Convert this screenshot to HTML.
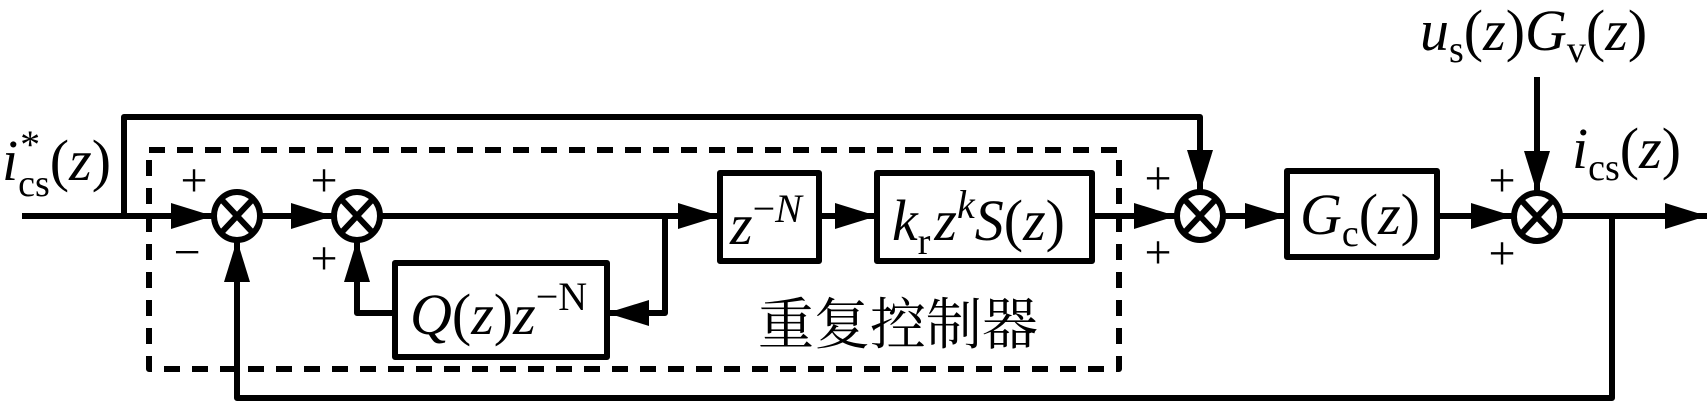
<!DOCTYPE html>
<html><head><meta charset="utf-8"><style>
html,body{margin:0;padding:0;background:#fff;}
svg{display:block;}
text{font-family:"Liberation Serif","Noto Serif CJK SC",serif;fill:#000;}
.i{font-style:italic;}
</style></head><body>
<svg width="1708" height="402" viewBox="0 0 1708 402" xmlns="http://www.w3.org/2000/svg" font-family="Liberation Serif, serif">
<defs>
<marker id="a" markerWidth="44" markerHeight="28" refX="42" refY="14" orient="auto" markerUnits="userSpaceOnUse">
<path d="M0,1 L42,14 L0,27 Z" fill="#000"/>
</marker>
</defs>
<g stroke="#000" stroke-width="6" fill="none" stroke-linejoin="round">
<rect x="149" y="150" width="970" height="219" stroke-dasharray="16 12"/>
<line x1="22" y1="216" x2="213" y2="216" marker-end="url(#a)"/>
<polyline points="124,216 124,117 1200,117 1200,192" marker-end="url(#a)"/>
<line x1="261" y1="216" x2="333" y2="216" marker-end="url(#a)"/>
<line x1="381" y1="216" x2="720" y2="216" marker-end="url(#a)"/>
<polyline points="665,216 665,313 607,313" marker-end="url(#a)"/>
<polyline points="395,313 357,313 357,240" marker-end="url(#a)"/>
<line x1="819" y1="216" x2="877" y2="216" marker-end="url(#a)"/>
<line x1="1092" y1="216" x2="1176" y2="216" marker-end="url(#a)"/>
<line x1="1224" y1="216" x2="1287" y2="216" marker-end="url(#a)"/>
<line x1="1437" y1="216" x2="1513" y2="216" marker-end="url(#a)"/>
<line x1="1537" y1="77" x2="1537" y2="193" marker-end="url(#a)"/>
<line x1="1561" y1="216" x2="1707" y2="216" marker-end="url(#a)"/>
<polyline points="1612,216 1612,398 237,398 237,240" marker-end="url(#a)"/>
<rect x="395" y="263" width="212" height="94"/>
<rect x="720" y="173" width="99" height="88"/>
<rect x="877" y="173" width="215" height="88"/>
<rect x="1287" y="171" width="150" height="86"/>
<ellipse cx="237" cy="216" rx="23" ry="24"/>
<path d="M221,199 L253,233 M253,199 L221,233"/>
<ellipse cx="357" cy="216" rx="23" ry="24"/>
<path d="M341,199 L373,233 M373,199 L341,233"/>
<ellipse cx="1200" cy="216" rx="23" ry="24"/>
<path d="M1184,199 L1216,233 M1216,199 L1184,233"/>
<ellipse cx="1537" cy="217" rx="23" ry="24"/>
<path d="M1521,200 L1553,234 M1553,200 L1521,234"/>
</g>
<g font-size="48" text-anchor="middle">
<text x="194" y="196">+</text>
<text x="187" y="268">−</text>
<text x="324" y="196">+</text>
<text x="324" y="274">+</text>
<text x="1158" y="194">+</text>
<text x="1158" y="268">+</text>
<text x="1502" y="196">+</text>
<text x="1502" y="269">+</text>
</g>
<text x="2" y="180" font-size="58"><tspan class="i">i</tspan><tspan font-size="40" dy="-22" dx="2">*</tspan><tspan font-size="38" dy="38" dx="-22">cs</tspan><tspan dy="-16">(</tspan><tspan class="i">z</tspan><tspan>)</tspan></text>
<text x="1420" y="50" font-size="58"><tspan class="i">u</tspan><tspan font-size="38" dy="12">s</tspan><tspan dy="-12">(</tspan><tspan class="i">z</tspan><tspan>)</tspan><tspan class="i">G</tspan><tspan font-size="38" dy="12">v</tspan><tspan dy="-12">(</tspan><tspan class="i">z</tspan><tspan>)</tspan></text>
<text x="1572" y="168" font-size="58"><tspan class="i">i</tspan><tspan font-size="38" dy="12">cs</tspan><tspan dy="-12">(</tspan><tspan class="i">z</tspan><tspan>)</tspan></text>
<text x="730" y="244" font-size="58"><tspan class="i">z</tspan><tspan font-size="40" dy="-22">−</tspan><tspan font-size="40" class="i">N</tspan></text>
<text x="892" y="240" font-size="58"><tspan class="i">k</tspan><tspan font-size="38" dy="14">r</tspan><tspan class="i" dy="-14" dx="4">z</tspan><tspan font-size="40" class="i" dy="-22">k</tspan><tspan class="i" dy="22">S</tspan><tspan>(</tspan><tspan class="i">z</tspan><tspan>)</tspan></text>
<text x="410" y="334" font-size="58"><tspan class="i">Q</tspan><tspan>(</tspan><tspan class="i">z</tspan><tspan>)</tspan><tspan class="i">z</tspan><tspan font-size="40" dy="-24">−N</tspan></text>
<text x="1300" y="234" font-size="58"><tspan class="i">G</tspan><tspan font-size="38" dy="12">c</tspan><tspan dy="-12">(</tspan><tspan class="i">z</tspan><tspan>)</tspan></text>
<text x="758" y="344" font-size="56" style="font-family:'Noto Serif CJK SC','Noto Sans CJK SC',serif">重复控制器</text>
</svg>
</body></html>
